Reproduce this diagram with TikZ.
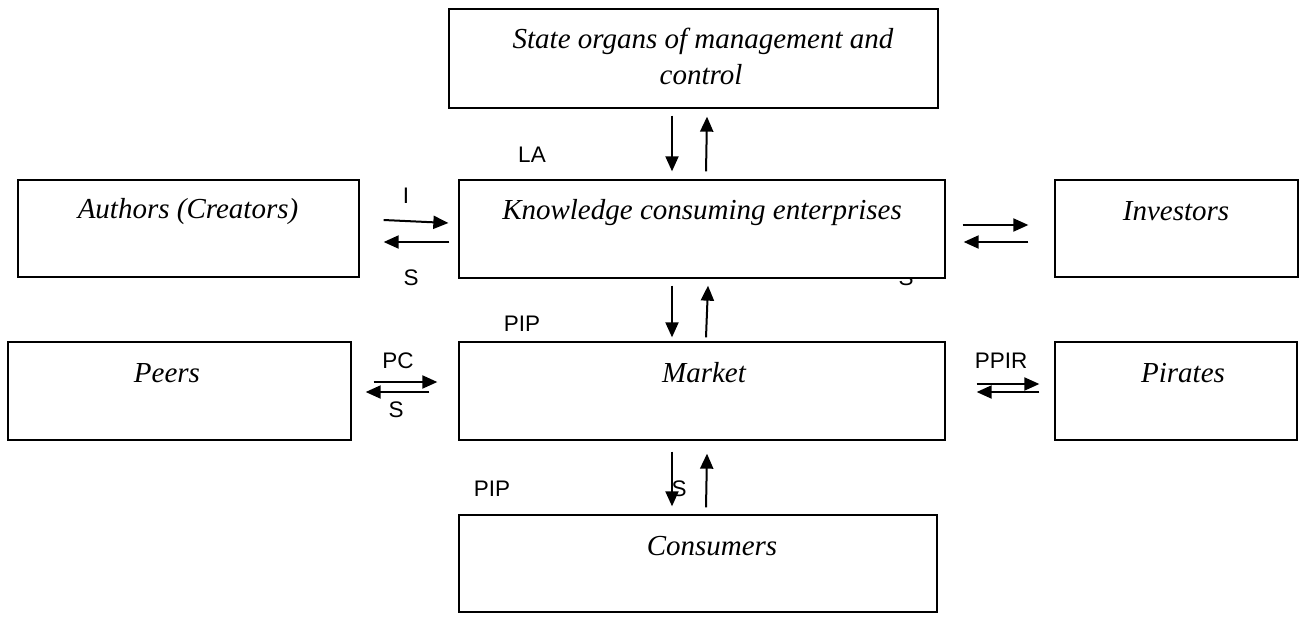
\documentclass[tikz,border=0pt]{standalone}
\usepackage{fontspec}
\setmainfont{Liberation Serif}
\setsansfont{Liberation Sans}
\usetikzlibrary{arrows.meta,calc}
\begin{document}
\begin{tikzpicture}[x=1pt,y=-1pt,
  box/.style={draw=black,fill=white,line width=1.3pt,inner sep=0pt,rectangle},
  boxtxt/.style={anchor=base,inner sep=0pt,font=\fontsize{29}{36}\selectfont\itshape},
  lbl/.style={anchor=base,inner sep=0pt,font=\sffamily\fontsize{22.5}{26}\selectfont},
  arr/.style={line width=2pt,-{Triangle[length=15pt,width=13pt]}}]
\useasboundingbox (0,0) rectangle (1300,616);
% label partly hidden behind the enterprises box
\node[lbl] (hs) at (906,285) {S};
% boxes
\node[box,minimum width=489,minimum height=99] (state) at (693.5,58.5) {};
\node[box,minimum width=341,minimum height=97] (auth) at (188.5,228.5) {};
\node[box,minimum width=486,minimum height=98] (kce) at (702,229) {};
\node[box,minimum width=243,minimum height=97] (inv) at (1176.5,228.5) {};
\node[box,minimum width=343,minimum height=98] (peers) at (179.5,391) {};
\node[box,minimum width=486,minimum height=98] (mkt) at (702,391) {};
\node[box,minimum width=242,minimum height=98] (pir) at (1176,391) {};
\node[box,minimum width=478,minimum height=97] (cons) at (698,563.5) {};
% box texts
\node[boxtxt] (t1) at (703,48) {State organs of management and};
\node[boxtxt] (t2) at (701,84) {control};
\node[boxtxt] (t3) at (188,218) {Authors (Creators)};
\node[boxtxt] (t4) at (702,219) {Knowledge consuming enterprises};
\node[boxtxt] (t5) at (1176,220) {Investors};
\node[boxtxt] (t6) at (167,382) {Peers};
\node[boxtxt] (t7) at (704,382) {Market};
\node[boxtxt] (t8) at (1183,382) {Pirates};
\node[boxtxt] (t9) at (712,555) {Consumers};
% state <-> kce
\draw[arr] ($(state.south)+(-21.5,7)$) -- ($(kce.north)+(-30,-8)$);
\draw[arr] ($(kce.north)+(4,-8)$) -- ($(state.south)+(13.5,8)$);
\node[lbl] (la) at (532,162) {LA};
% authors <-> kce
\draw[arr] ($(auth.east)+(24,-8.5)$) -- ($(kce.west)+(-10,-6)$);
\draw[arr] ($(kce.west)+(-9,13)$) -- ($(auth.east)+(24,13.5)$);
\node[lbl] (li) at (406,203) {I};
\node[lbl] (ls1) at (411,285) {S};
% kce <-> investors
\draw[arr] ($(kce.east)+(17,-4)$) -- ($(inv.west)+(-26,-3.5)$);
\draw[arr] ($(inv.west)+(-26,13.5)$) -- ($(kce.east)+(18,13)$);
% kce <-> market
\draw[arr] ($(kce.south)+(-30,7)$) -- ($(mkt.north)+(-30,-4)$);
\draw[arr] ($(mkt.north)+(4,-4)$) -- ($(kce.south)+(6,7)$);
\node[lbl] (lp1) at (522,331) {PIP};
% peers <-> market
\draw[arr] ($(peers.east)+(22,-9)$) -- ($(mkt.west)+(-21,-9)$);
\draw[arr] ($(mkt.west)+(-29,1)$) -- ($(peers.east)+(14,1)$);
\node[lbl] (lpc) at (398,368) {PC};
\node[lbl] (ls2) at (396,417) {S};
% market <-> pirates
\draw[arr] ($(mkt.east)+(31,-7)$) -- ($(pir.west)+(-15,-7)$);
\draw[arr] ($(pir.west)+(-15,1)$) -- ($(mkt.east)+(31,1)$);
\node[lbl] (lppir) at (1001,368) {PPIR};
% market <-> consumers
\draw[arr] ($(mkt.south)+(-30,11)$) -- ($(cons.north)+(-26,-8)$);
\draw[arr] ($(cons.north)+(8,-7)$) -- ($(mkt.south)+(5,13)$);
\node[lbl] (lp2) at (492,496) {PIP};
\node[lbl] (ls3) at (679,496) {S};
\end{tikzpicture}
\end{document}
